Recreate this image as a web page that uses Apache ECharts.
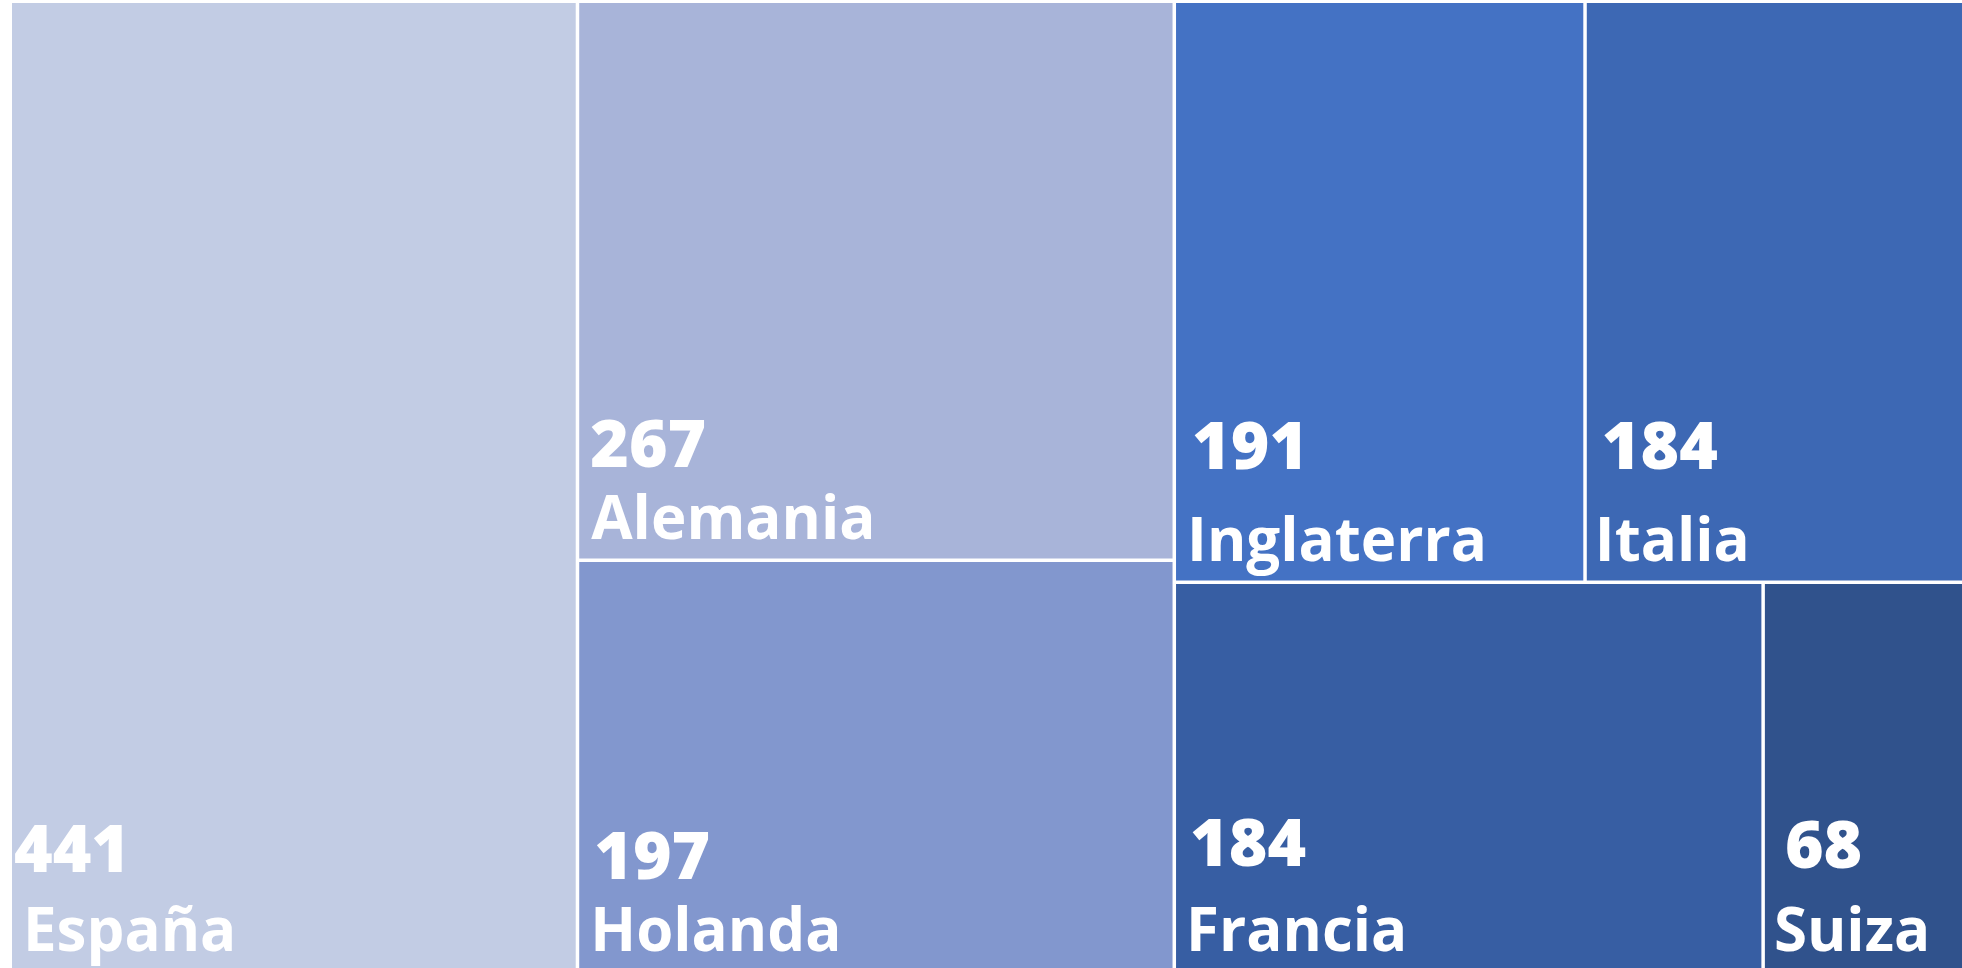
<!DOCTYPE html>
<html>
<head>
<meta charset="utf-8">
<style>
  html, body { margin: 0; padding: 0; background: #fff; }
  #tree { width: 1962px; height: 968px; }
</style>
<script src="https://cdn.jsdelivr.net/npm/echarts@6/dist/echarts.min.js"></script>
</head>
<body>
<div id="tree"></div>
<script>
  // datos (con valores iguales echarts pone primero el de indice mayor)
  const paises = ['España', 'Alemania', 'Holanda', 'Inglaterra', 'Francia', 'Italia', 'Suiza']
  const valores = [441, 267, 197, 191, 184, 184, 68]

  // colores de cada celda
  const colores = ['#C2CCE4', '#A8B4D9', '#8297CE', '#4472C4', '#375EA3', '#3D68B4', '#30528C']

  // ajustes de etiqueta: [sangria numero, sangria nombre, alto linea numero]
  const ajustes = {
    'España': [2, 11, 98],
    'Alemania': [11, 12, 82],
    'Holanda': [15, 11, 84],
    'Inglaterra': [16, 11, 122],
    'Italia': [15, 8, 122],
    'Francia': [14, 10, 110],
    'Suiza': [20, 9, 106]
  }
  const altoNombre = 64
  const margenAbajo = 5

  const chart = echarts.init(document.getElementById('tree'))

  function armarDatos(altos) {
    return paises.map((p, i) => {
      const a = ajustes[p]
      const arriba = altos ? Math.max(altos[p] - a[2] - altoNombre - margenAbajo, 0) : 0
      return {
        name: p,
        value: valores[i],
        itemStyle: { color: colores[i] },
        label: {
          padding: [arriba, 0, 0, 0],
          rich: {
            v: { padding: [0, 0, 0, a[0]], lineHeight: a[2] },
            n: { padding: [0, 0, 0, a[1]] }
          }
        }
      }
    })
  }

  const option = {
    animation: false,
    series: [
      {
        type: 'treemap',
        left: 12,
        top: 3,
        right: -17,
        bottom: -3,
        squareRatio: 1,
        roam: false,
        nodeClick: false,
        breadcrumb: { show: false },
        itemStyle: {
          borderWidth: 0,
          gapWidth: 3.5,
          borderColor: '#fff'
        },
        emphasis: { disabled: true },
        label: {
          show: true,
          position: 'insideTopLeft',
          distance: 0,
          formatter: '{v|{c}}\n{n|{b}}',
          color: '#fff',
          rich: {
            v: {
              fontFamily: 'Open Sans',
              fontWeight: 800,
              fontSize: 66,
              color: '#fff'
            },
            n: {
              fontFamily: 'Open Sans',
              fontWeight: 'bold',
              fontSize: 60,
              lineHeight: altoNombre,
              color: '#fff'
            }
          }
        },
        data: armarDatos(null)
      }
    ]
  }

  chart.setOption(option)

  // alto de cada celda segun el layout de echarts, para bajar la etiqueta
  const raiz = chart.getModel().getSeriesByIndex(0).getData().tree.root
  const altos = {}
  raiz.children.forEach(n => { altos[n.name] = n.getLayout().height })
  option.series[0].data = armarDatos(altos)
  chart.setOption(option)
</script>
</body>
</html>
